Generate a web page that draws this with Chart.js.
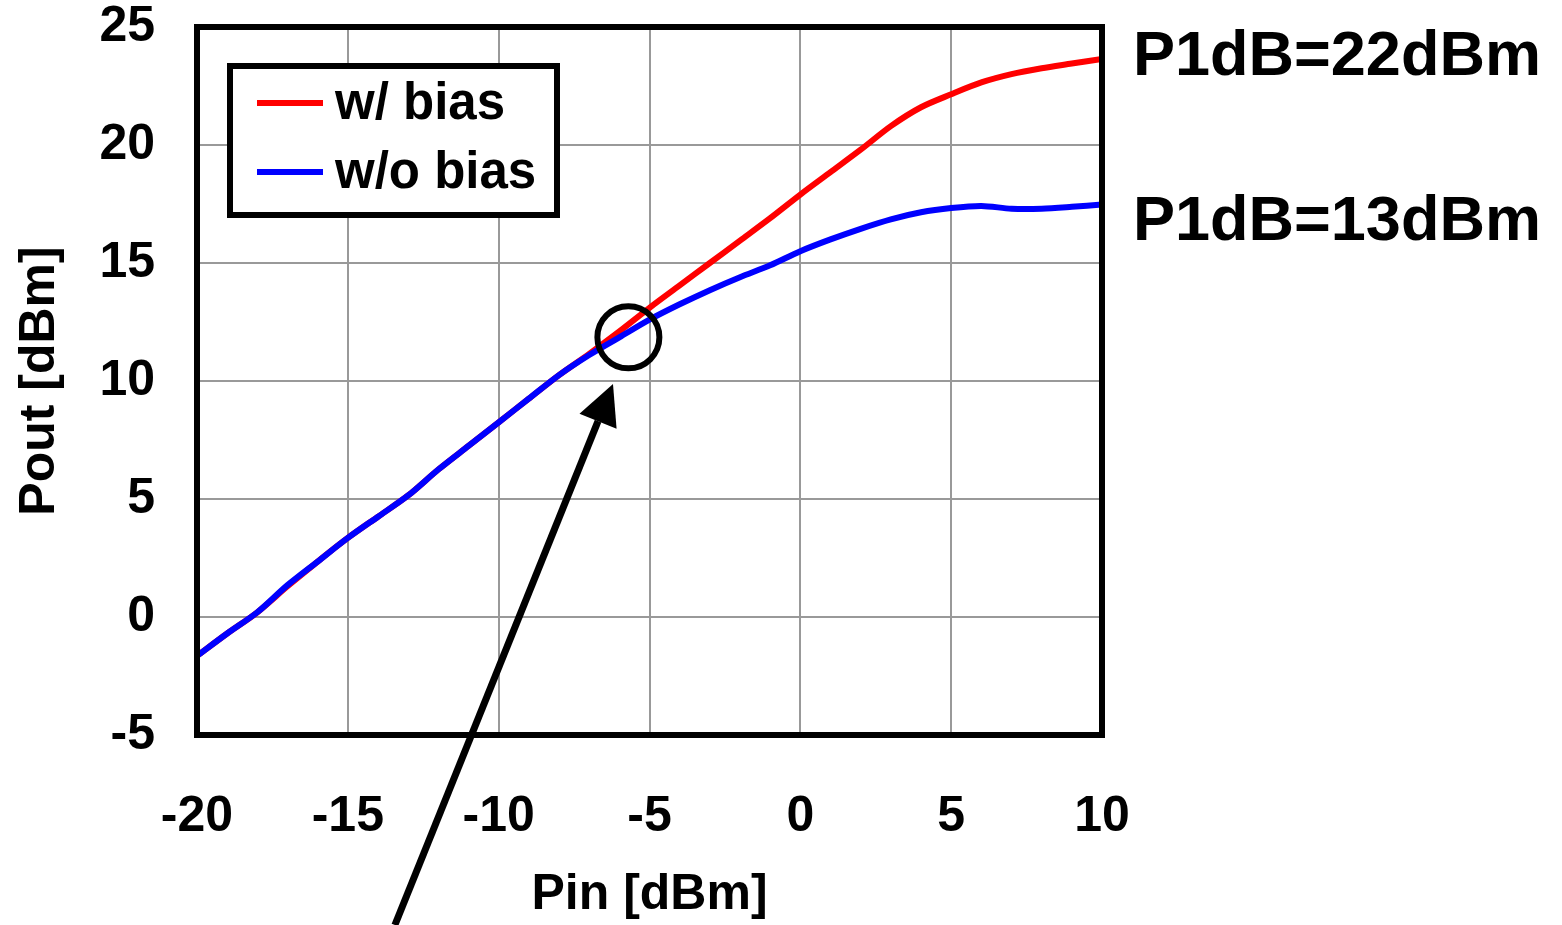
<!DOCTYPE html>
<html>
<head>
<meta charset="utf-8">
<script src="https://cdn.jsdelivr.net/npm/chart.js@4.4.1/dist/chart.umd.min.js"></script>
<style>
  html, body { margin: 0; padding: 0; background: #fff; }
  #wrap { width: 1562px; height: 925px; }
</style>
</head>
<body>
<div id="wrap"><canvas id="myChart" width="1562" height="925"></canvas></div>
<script>
"use strict";

// DATA
const pinDbm = [-20, -19, -18, -17, -16, -15, -14, -13, -12, -11, -10, -9, -8, -7, -6, -5,
  -4, -3, -2, -1, 0, 1, 2, 3, 4, 5, 6, 7, 8, 9, 10];
const poutWithBias = [-1.65, -0.7, 0.2, 1.3, 2.35, 3.35, 4.25, 5.15, 6.25, 7.25, 8.25, 9.25, 10.25,
  11.15, 12.1, 13.1, 14.05, 15.0, 15.95, 16.9, 17.9, 18.85, 19.8, 20.8, 21.6, 22.15, 22.65,
  23.0, 23.25, 23.45, 23.65];
const poutWithoutBias = [-1.65, -0.7, 0.2, 1.35, 2.35, 3.35, 4.25, 5.15, 6.25, 7.25, 8.25, 9.25,
  10.25, 11.1, 11.85, 12.6, 13.25, 13.85, 14.4, 14.9, 15.5, 16.0, 16.45, 16.85, 17.15, 17.33,
  17.42, 17.3, 17.3, 17.38, 17.48];
const seriesLabels = ["w/ bias", "w/o bias"];
const xTickRange = [-20, 10];
const yTickRange = [-5, 25];
const p1dbNotes = ["P1dB=22dBm", "P1dB=13dBm"];

const ctx = document.getElementById("myChart");
const FONT = "Liberation Sans, Arial, Helvetica, sans-serif";

// frame, legend box and annotations
const extras = {
  id: "extras",
  afterDatasetsDraw(chart) {
    const { ctx: c, chartArea: a, scales } = chart;
    const sx = scales.x, sy = scales.y;
    c.save();
    // plot frame
    c.strokeStyle = "#000";
    c.lineWidth = 6;
    c.strokeRect(a.left, a.top, a.right - a.left, a.bottom - a.top);

    // legend box
    c.fillStyle = "#fff";
    c.fillRect(230, 66, 327, 149);
    c.strokeRect(230, 66, 327, 149);
    const rows = [103, 172];
    chart.data.datasets.forEach((ds, i) => {
      c.strokeStyle = ds.borderColor;
      c.lineWidth = 6;
      c.beginPath();
      c.moveTo(257, rows[i]);
      c.lineTo(323, rows[i]);
      c.stroke();
      c.fillStyle = "#000";
      c.font = "bold 51px " + FONT;
      c.textBaseline = "middle";
      c.textAlign = "left";
      c.fillText(ds.label, 335, rows[i] + 2);
    });

    // circle at the split point
    c.strokeStyle = "#000";
    c.lineWidth = 6;
    c.beginPath();
    c.arc(sx.getPixelForValue(-5.7), sy.getPixelForValue(11.85), 31, 0, Math.PI * 2);
    c.stroke();

    // arrow
    const tipX = sx.getPixelForValue(-6.21), tipY = sy.getPixelForValue(9.87);
    const tailX = sx.getPixelForValue(-13.44), tailY = sy.getPixelForValue(-13.05);
    const ang = Math.atan2(tailY - tipY, tailX - tipX);
    const headLen = 40, headHalf = 20;
    const bx = tipX + Math.cos(ang) * headLen, by = tipY + Math.sin(ang) * headLen;
    c.lineWidth = 7;
    c.beginPath();
    c.moveTo(tailX, tailY);
    c.lineTo(bx, by);
    c.stroke();
    c.fillStyle = "#000";
    c.beginPath();
    c.moveTo(tipX, tipY);
    c.lineTo(bx - Math.sin(ang) * headHalf, by + Math.cos(ang) * headHalf);
    c.lineTo(bx + Math.sin(ang) * headHalf, by - Math.cos(ang) * headHalf);
    c.closePath();
    c.fill();

    // P1dB notes
    c.font = "bold 63px " + FONT;
    c.textBaseline = "alphabetic";
    c.textAlign = "left";
    c.fillText(p1dbNotes[0], a.right + 31, 75);
    c.fillText(p1dbNotes[1], a.right + 31, 240);
    c.restore();
  },
};

const chart = new Chart(ctx, {
  type: "line",
  data: {
    labels: pinDbm,
    datasets: [
      {
        label: seriesLabels[0],
        data: pinDbm.map((x, i) => ({ x, y: poutWithBias[i] })),
        borderColor: "#ff0000",
        borderWidth: 6,
        pointRadius: 0,
        tension: 0.3,
        order: 1,
      },
      {
        label: seriesLabels[1],
        data: pinDbm.map((x, i) => ({ x, y: poutWithoutBias[i] })),
        borderColor: "#0000ff",
        borderWidth: 6,
        pointRadius: 0,
        tension: 0.3,
        order: 0,
      },
    ],
  },
  options: {
    responsive: false,
    animation: false,
    layout: { padding: { top: 27, right: 460, bottom: 0, left: 0 } },
    plugins: {
      legend: { display: false },
      tooltip: { enabled: false },
    },
    scales: {
      x: {
        type: "linear",
        min: xTickRange[0],
        max: xTickRange[1],
        afterFit: (scale) => {
          scale.height = 190;
          scale.paddingLeft = 0;
          scale.paddingRight = 0;
        },
        ticks: {
          stepSize: 5,
          padding: 57,
          color: "#000",
          font: { family: FONT, size: 50, weight: "bold", lineHeight: 1 },
        },
        grid: { color: "#999", lineWidth: 2, drawTicks: false },
        border: { display: false },
        title: {
          display: true,
          text: "Pin [dBm]",
          color: "#000",
          padding: { top: 0, bottom: 0 },
          font: { family: FONT, size: 50, weight: "bold", lineHeight: 1.2 },
        },
      },
      y: {
        min: yTickRange[0],
        max: yTickRange[1],
        afterFit: (scale) => {
          scale.width = 197;
          scale.paddingTop = 0;
          scale.paddingBottom = 0;
        },
        ticks: {
          stepSize: 5,
          padding: 42,
          color: "#000",
          font: { family: FONT, size: 50, weight: "bold", lineHeight: 1 },
        },
        grid: { color: "#999", lineWidth: 2, drawTicks: false },
        border: { display: false },
        title: {
          display: true,
          text: "Pout [dBm]",
          color: "#000",
          padding: { top: 10, bottom: 0 },
          font: { family: FONT, size: 50, weight: "bold", lineHeight: 1.2 },
        },
      },
    },
  },
  plugins: [extras],
});
</script>
</body>
</html>
